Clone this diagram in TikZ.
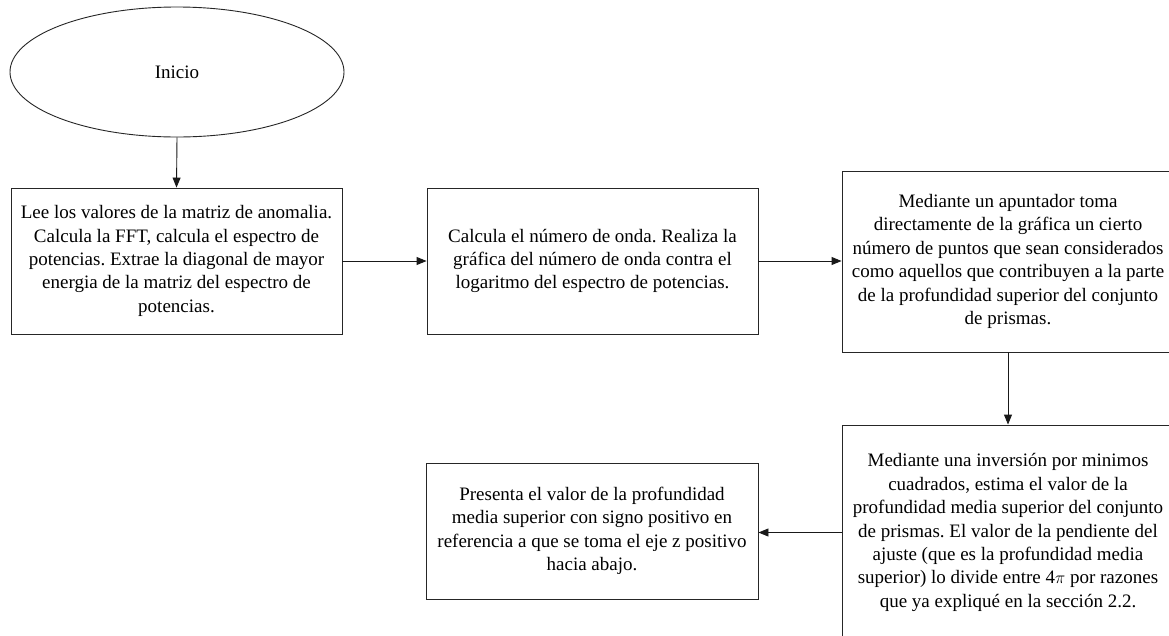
\documentclass[tikz,border=0pt]{standalone}
\usepackage{fontspec}
\setmainfont{Liberation Serif}
\usetikzlibrary{arrows.meta,shapes.geometric}
\tikzset{
  outl/.style={draw=black!85, line width=0.9pt},
  proc/.style={outl, rectangle, inner sep=0pt, align=center,
    font=\fontsize{19}{23.4}\selectfont},
  startnode/.style={outl, ellipse, inner sep=0pt, minimum width=334pt, minimum height=130pt,
    font=\fontsize{19}{23.4}\selectfont},
  arr/.style={draw=black!90, line width=0.9pt, -{Triangle[length=10pt,width=8pt]}}
}
\begin{document}
\frenchspacing
\begin{tikzpicture}[x=1pt,y=-1pt]
\useasboundingbox (0,0) rectangle (1169,635);
\clip (0,0) rectangle (1169,635);
\fill[white] (0,0) rectangle (1169,635);

\node[startnode] (e) at (177,72) {\raisebox{-5pt}{Inicio}};

\node[proc, minimum width=331pt, minimum height=146pt] (b1) at (176.5,261)
  {Lee los valores de la matriz de anomalia.\\
   Calcula la FFT, calcula el espectro de\\
   potencias. Extrae la diagonal de mayor\\
   energia de la matriz del espectro de\\
   potencias.};

\node[proc, minimum width=331pt, minimum height=146pt] (b2) at (592.5,261)
  {Calcula el número de onda. Realiza la\\
   gráfica del número de onda contra el\\
   logaritmo del espectro de potencias.};

\node[proc, minimum width=332pt, minimum height=181pt] (b3) at (1008,261.5)
  {Mediante un apuntador toma\\
   directamente de la gráfica un cierto\\
   número de puntos que sean considerados\\
   como aquellos que contribuyen a la parte\\
   de la profundidad superior del conjunto\\
   de prismas.};

\node[proc, minimum width=332pt, minimum height=215pt] (b4) at (1008,532.5)
  {Mediante una inversión por minimos\\
   cuadrados, estima el valor de la\\
   profundidad media superior del conjunto\\
   de prismas. El valor de la pendiente del\\
   ajuste (que es la profundidad media\\
   superior) lo divide entre 4$\pi$ por razones\\
   que ya expliqué en la sección 2.2.};

\node[proc, minimum width=332pt, minimum height=136pt] (b5) at (592,531)
  {Presenta el valor de la profundidad\\
   media superior con signo positivo en\\
   referencia a que se toma el eje z positivo\\
   hacia abajo.};

\draw[arr] (e.south) -- (b1.north);
\draw[arr] (b1.east) -- (b2.west);
\draw[arr] (b2.east) -- (b2.east -| b3.west);
\draw[arr] (b3.south) -- (b4.north);
\draw[arr] (b4.west) -- (b4.west -| b5.east);
\end{tikzpicture}
\end{document}
